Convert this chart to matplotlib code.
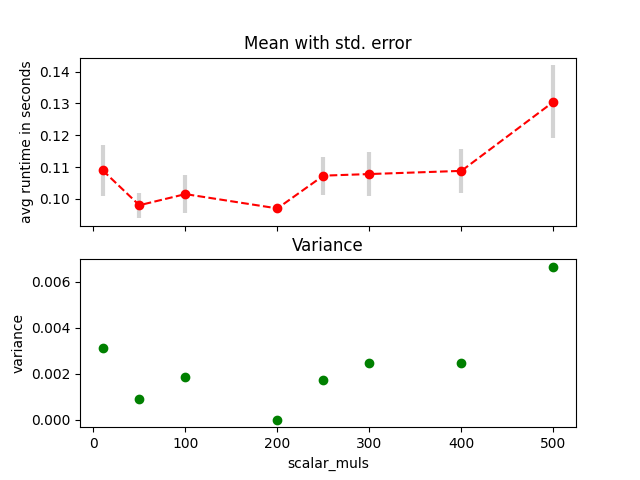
import matplotlib
matplotlib.use('Agg')
import matplotlib.pyplot as plt

scalar_muls = [10, 50, 100, 200, 250, 300, 400, 500]
mean_runtime = [0.109, 0.098, 0.1015, 0.097, 0.1073, 0.1078, 0.1088, 0.1305]
std_error = [0.008, 0.004, 0.006, 0.0005, 0.006, 0.0068, 0.007, 0.0115]
variance = [0.0031, 0.0009, 0.00185, 0.0, 0.00172, 0.00248, 0.00248, 0.00665]

fig, (ax1, ax2) = plt.subplots(2, 1, sharex=True, figsize=(6.4, 4.8))

ax1.errorbar(scalar_muls, mean_runtime, yerr=std_error, fmt='o--', color='red',
             ecolor='lightgray', elinewidth=3)
ax1.set_title('Mean with std. error')
ax1.set_ylabel('avg runtime in seconds')

ax2.plot(scalar_muls, variance, 'o', color='green')
ax2.set_title('Variance')
ax2.set_ylabel('variance')
ax2.set_xlabel('scalar_muls')

plt.savefig('out.png', dpi=100)
